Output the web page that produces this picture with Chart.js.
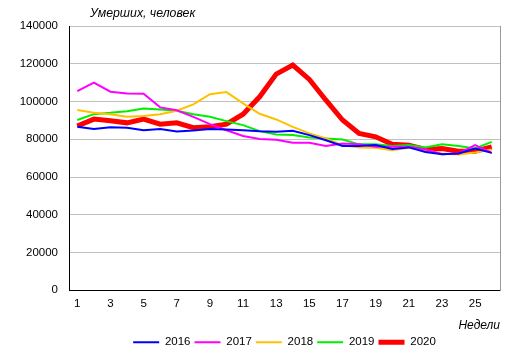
<!DOCTYPE html>
<html>
<head>
<meta charset="utf-8">
<script src="https://cdn.jsdelivr.net/npm/chart.js@4/dist/chart.umd.min.js"></script>
<style>
  html, body { margin: 0; padding: 0; background: #fff; }
  #wrap { width: 514px; height: 358px; }
</style>
</head>
<body>
<div id="wrap"><canvas id="chart"></canvas></div>
<script>
// недели
const weeks = [1,2,3,4,5,6,7,8,9,10,11,12,13,14,15,16,17,18,19,20,21,22,23,24,25,26]

// умерших по неделям
const d2016 = [86600,85500,86400,86100,84800,85400,84100,84700,85500,85200,84800,84300,84000,84500,82200,79500,76500,76400,76900,74800,75700,73300,72100,72500,75100,72800]
const d2017 = [105500,110000,105200,104300,104100,96900,95400,91900,88000,84800,81700,80200,79700,78100,78100,76500,77800,77300,76000,76000,76000,74600,72100,72500,76900,72800]
const d2018 = [95500,94000,93300,91900,92300,93200,95100,98500,103900,105000,99000,93500,90500,86600,83100,80400,76900,75700,75500,74200,75500,74200,72500,72000,73000,74600]
const d2019 = [90200,93300,94000,94900,96300,95800,95100,93200,91900,89600,87500,84300,82500,82200,81000,80400,79900,77300,77300,76500,76900,75700,77400,76400,75100,78600]
const d2020 = [87000,90700,89800,88700,90700,88000,88700,86100,86600,88000,93300,102500,114500,119300,111700,100700,90200,83100,81300,77400,76900,74600,75100,73700,73700,76000]

const yTicks = [0,20000,40000,60000,80000,100000,120000,140000]

const FONT = 'Liberation Sans, Arial, sans-serif'

// подпись оси Y сверху
const textPlugin = {
    id:'texts',
    afterDraw(chart){
        const ctx = chart.ctx
        ctx.save()
        ctx.fillStyle = '#000'
        ctx.font = 'italic 12.3px ' + FONT
        ctx.textBaseline = 'middle'
        ctx.textAlign = 'left'
        ctx.fillText('Умерших, человек', 90, 14)
        ctx.restore()
    }
}

function line(label,data,color,width){
    return {
        label:label,
        data:data,
        borderColor:color,
        backgroundColor:color,
        borderWidth:width,
        pointRadius:0,
        tension:0,
        fill:false
    }
}

new Chart(document.getElementById('chart'), {
    type:'line',
    data:{
        labels:weeks,
        datasets:[
            line('2016',d2016,'#0000FF',2),
            line('2017',d2017,'#FF00FF',2),
            line('2018',d2018,'#FFC000',2),
            line('2019',d2019,'#00EE00',2),
            line('2020',d2020,'#FF0000',5)
        ]
    },
    plugins:[textPlugin],
    options:{
        responsive:true,
        maintainAspectRatio:false,
        animation:false,
        layout:{ padding:{ left:0, right:0, top:26, bottom:0 } },
        plugins:{
            legend:{
                position:'bottom',
                fullSize:false,
                labels:{
                    usePointStyle:true,
                    pointStyle:'line',
                    pointStyleWidth:26,
                    boxWidth:26,
                    boxHeight:8,
                    padding:4,
                    color:'#000',
                    font:{ family:FONT, size:11.5 }
                }
            },
            tooltip:{ enabled:false }
        },
        scales:{
            x:{
                offset:true,
                grid:{ display:false, drawTicks:false },
                border:{ color:'#000', width:1 },
                ticks:{
                    autoSkip:false,
                    maxRotation:0,
                    padding:7,
                    color:'#000',
                    font:{ family:FONT, size:11.5 },
                    callback:(v,i)=> i%2===0 ? String(weeks[i]) : ''
                },
                title:{
                    display:true,
                    text:'Недели',
                    align:'end',
                    color:'#000',
                    font:{ family:FONT, size:12, style:'italic' },
                    padding:{ top:0, bottom:0 }
                }
            },
            y:{
                min:0,
                max:140000,
                afterFit:(s)=>{ s.width = 69 },
                afterBuildTicks:(s)=>{ s.ticks = yTicks.map(v=>({value:v})) },
                grid:{ color:'#c0c0c0', drawTicks:false },
                border:{ color:'#000', width:1 },
                ticks:{
                    padding:11,
                    color:'#000',
                    font:{ family:FONT, size:11.5 },
                    callback:(v)=> String(v)
                }
            },
            y1:{
                position:'right',
                afterFit:(s)=>{ s.width = 14 },
                grid:{ display:false, drawTicks:false },
                border:{ color:'#999', width:1 },
                ticks:{ display:false }
            }
        }
    }
})
</script>
</body>
</html>
